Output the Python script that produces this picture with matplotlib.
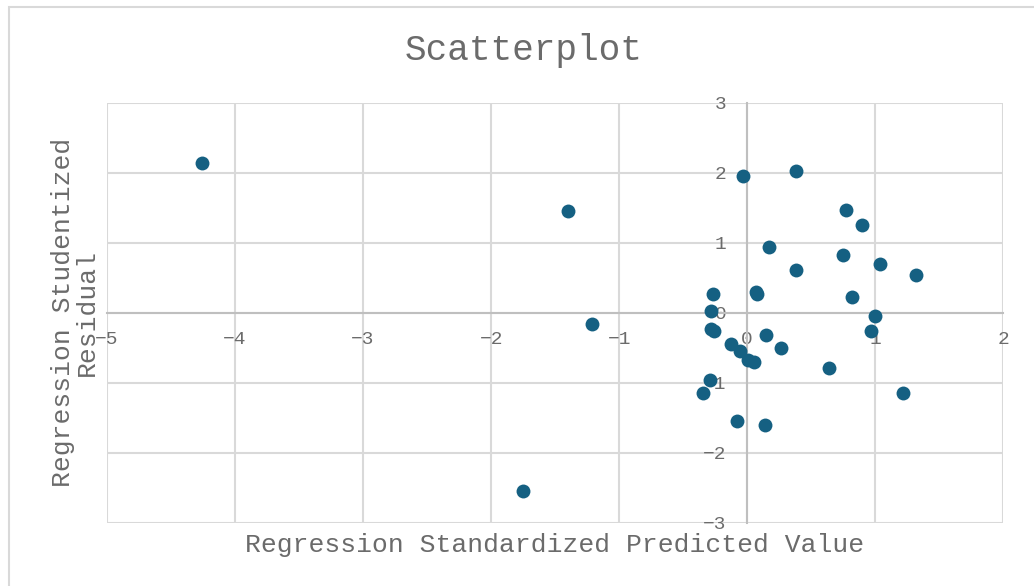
import numpy as np
import matplotlib
matplotlib.use('Agg')
import matplotlib.pyplot as plt
import matplotlib.patches as patches

# --- Data ---
predicted = [-4.26, -1.40, -1.21, -1.75, -0.035, 0.378, 0.771, 0.896, 0.169,
             0.75, 1.034, 1.315, 0.383, 0.068, 0.08, -0.268, 0.815, -0.283,
             0.995, -0.28, -0.26, 0.969, 0.146, -0.128, -0.06, 0.26, 0.01,
             0.055, 0.635, -0.289, -0.346, 1.216, -0.076, 0.135]
residual = [2.14, 1.45, -0.16, -2.54, 1.96, 2.03, 1.47, 1.26, 0.94,
            0.83, 0.69, 0.54, 0.61, 0.30, 0.27, 0.27, 0.23, 0.03,
            -0.04, -0.23, -0.26, -0.26, -0.32, -0.44, -0.55, -0.50, -0.68,
            -0.70, -0.79, -0.96, -1.15, -1.14, -1.55, -1.60]
x_ticks = [-5, -4, -3, -2, -1, 0, 1, 2]
y_ticks = [-3, -2, -1, 0, 1, 2, 3]

title = "Scatterplot"
x_label = "Regression Standardized Predicted Value"
y_label = "Regression Studentized\nResidual"

# --- Style ---
W, H = 1034, 586
plt.rcParams['font.family'] = ['Liberation Mono', 'DejaVu Sans Mono']
text_grey = '#6b6b6b'
grid_grey = '#d9d9d9'
axis_grey = '#bfbfbf'
dot_blue = '#156082'

fig = plt.figure(figsize=(W / 100, H / 100), dpi=100)
ax = fig.add_axes([107 / W, 1 - 522.7 / H, 896.3 / W, 420 / H])

ax.scatter(predicted, residual, s=100, color=dot_blue, zorder=3, linewidths=0)

ax.set_xlim(x_ticks[0], x_ticks[-1])
ax.set_ylim(y_ticks[0], y_ticks[-1])
ax.set_xticks(x_ticks)
ax.set_yticks(y_ticks)
ax.grid(True, color=grid_grey, linewidth=1.5, zorder=0)
ax.set_axisbelow(True)

# axes cross at zero, like the spreadsheet chart
ax.spines['left'].set_position(('data', 0))
ax.spines['bottom'].set_position(('data', 0))
for side in ['left', 'bottom']:
    ax.spines[side].set_color(axis_grey)
    ax.spines[side].set_linewidth(1.5)
    ax.spines[side].set_zorder(1)
for side in ['top', 'right']:
    ax.spines[side].set_visible(False)

ax.tick_params(axis='both', length=0, labelsize=14, labelcolor=text_grey)
ax.tick_params(axis='y', pad=15)
ax.tick_params(axis='x', pad=13)

# titles
fig.text(524 / W, 1 - 60 / H, title, ha='center', va='baseline',
         fontsize=26, color=text_grey)
fig.text(555 / W, 1 - 545 / H, x_label, ha='center', va='center',
         fontsize=19, color=text_grey)
fig.text(75 / W, 1 - 312.7 / H, y_label, ha='center', va='center',
         rotation=90, multialignment='center', fontsize=19, color=text_grey,
         linespacing=1.0)

# chart-area frame (left/top edges visible)
frame = patches.Rectangle((9 / W, -0.1), 1.2, 1 - 7 / H + 0.1,
                          transform=fig.transFigure, fill=False,
                          edgecolor=grid_grey, linewidth=1.5)
fig.patches.append(frame)

fig.savefig('out.png', dpi=100)
